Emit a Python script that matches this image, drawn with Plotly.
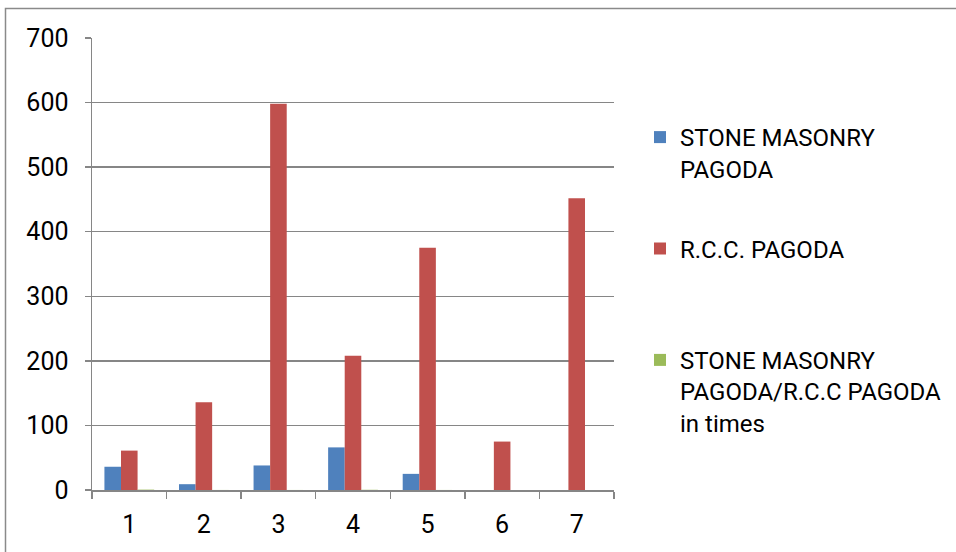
import plotly.graph_objects as go

categories = ["1", "2", "3", "4", "5", "6", "7"]
stone_masonry = [36, 9, 38, 66, 25, 0, 0]
rcc = [61, 136, 598, 208, 375, 75, 452]
ratio_times = [0.59, 0.07, 0.06, 0.32, 0.07, 0, 0]
y_ticks = [0, 100, 200, 300, 400, 500, 600, 700]

names = [
    "STONE MASONRY<br>PAGODA",
    "R.C.C. PAGODA<br> ",
    "STONE MASONRY<br>PAGODA/R.C.C PAGODA<br>in times",
]
colors = ["#4F81BD", "#C0504D", "#9BBB59"]

W, H = 956, 552
L, R, T, B = 92, 614, 38, 490

fig = go.Figure()
for i, (vals, nm, col) in enumerate(zip([stone_masonry, rcc, ratio_times], names, colors)):
    fig.add_trace(go.Bar(
        x=categories, y=vals, name=nm, legendgroup=f"g{i}",
        marker=dict(color=col, line=dict(width=0)),
    ))

grid = "#868686"
font_family = "Roboto"

def px_to_paper_x(px):
    return (px - L) / (R - L)

def px_to_paper_y(py):
    return (B - py) / (B - T)

fig.update_layout(
    width=W, height=H,
    margin=dict(l=L, r=W - R, t=T, b=H - B, pad=0),
    paper_bgcolor="white", plot_bgcolor="white",
    barmode="group", bargap=0.333, bargroupgap=0,
    font=dict(family=font_family, size=24, color="#000000"),
    showlegend=True,
    legend=dict(
        xref="container", yref="container",
        x=640 / W, y=1 - 115 / H, xanchor="left", yanchor="top",
        font=dict(family=font_family, size=24, color="#000000"),
        traceorder="grouped", tracegroupgap=46, valign="top",
        bgcolor="rgba(0,0,0,0)", borderwidth=0, maxheight=540,
    ),
    xaxis=dict(
        type="category", showgrid=False, showline=True, linecolor=grid, linewidth=1.5,
        ticks="outside", tickson="boundaries", ticklen=7, tickcolor=grid, tickwidth=1.5,
        ticklabelstandoff=11, tickfont=dict(family=font_family, size=25, color="#000000"),
        fixedrange=True,
    ),
    yaxis=dict(
        range=[0, 700], tickvals=y_ticks, showgrid=True, gridcolor=grid, gridwidth=1.5,
        showline=True, linecolor=grid, linewidth=1.5, zeroline=False,
        ticks="outside", ticklen=6, tickcolor=grid, tickwidth=1.5,
        ticklabelstandoff=11, tickfont=dict(family=font_family, size=25, color="#000000"),
        fixedrange=True,
    ),
    shapes=[dict(
        type="rect", xref="paper", yref="paper",
        x0=px_to_paper_x(5.5), x1=px_to_paper_x(1000),
        y0=px_to_paper_y(600), y1=px_to_paper_y(8.5),
        line=dict(color="#8a8a8a", width=1.5), fillcolor="rgba(0,0,0,0)", layer="below",
    )],
)

fig.write_html(
    "out.html",
    config={"displayModeBar": False, "staticPlot": True},
    post_script="document.documentElement.style.margin='0';document.body.style.margin='0';document.body.style.overflow='hidden';",
)
